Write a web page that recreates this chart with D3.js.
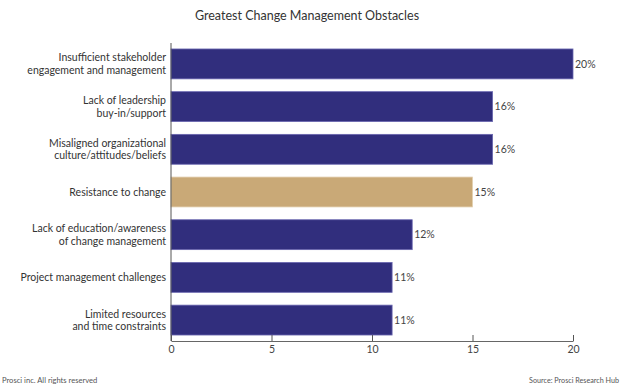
<!DOCTYPE html>
<html lang="en">
<head>
    <meta charset="UTF-8">
    <title>Greatest Change Management Obstacles</title>
    <script src="https://d3js.org/d3.v7.min.js"></script>
    <style>
        body { margin: 0; background: #fff; }
        svg text { font-family: Lato, "Open Sans", sans-serif; }
    </style>
</head>
<body>
    <div id="chart"></div>
    <script>
        // Data
        const categories = [
            ["Insufficient stakeholder", "engagement and management"],
            ["Lack of leadership", "buy-in/support"],
            ["Misaligned organizational", "culture/attitudes/beliefs"],
            ["Resistance to change"],
            ["Lack of education/awareness", "of change management"],
            ["Project management challenges"],
            ["Limited resources", "and time constraints"]
        ];
        const values = [20, 16, 16, 15, 12, 11, 11];
        const highlight = [false, false, false, true, false, false, false];
        const xTicks = [0, 5, 10, 15, 20];

        const width = 624, height = 392;
        const margin = { top: 43, right: 51, bottom: 51, left: 171 };

        const svg = d3.select("#chart")
            .append("svg")
            .attr("width", width)
            .attr("height", height);

        // Title
        svg.append("text")
            .attr("x", 307)
            .attr("y", 20)
            .attr("text-anchor", "middle")
            .attr("font-size", 12.5)
            .attr("fill", "#333")
            .text("Greatest Change Management Obstacles");

        const x = d3.scaleLinear()
            .domain([0, 20])
            .range([margin.left, width - margin.right]);

        const y = d3.scaleBand()
            .domain(d3.range(values.length))
            .range([margin.top, height - margin.bottom])
            .paddingInner(0.3)
            .paddingOuter(0.14);

        // Bars
        svg.selectAll("rect.bar")
            .data(values)
            .join("rect")
            .attr("class", "bar")
            .attr("x", x(0))
            .attr("y", (d, i) => y(i))
            .attr("width", d => x(d) - x(0))
            .attr("height", y.bandwidth())
            .attr("fill", (d, i) => highlight[i] ? "#c9a977" : "#312e7d")
            .attr("stroke", (d, i) => highlight[i] ? "#e2cfae" : "#6a67b0")
            .attr("stroke-width", 0.8);

        // Value labels
        svg.selectAll("text.val")
            .data(values)
            .join("text")
            .attr("class", "val")
            .attr("x", d => x(d) + 2)
            .attr("y", (d, i) => y(i) + y.bandwidth() / 2)
            .attr("dy", "0.35em")
            .attr("font-size", 10.5)
            .attr("fill", "#444")
            .text(d => d + "%");

        // Category labels
        const labels = svg.selectAll("text.cat")
            .data(categories)
            .join("text")
            .attr("class", "cat")
            .attr("text-anchor", "end")
            .attr("font-size", 10.5)
            .attr("fill", "#333");

        labels.each(function(lines, i) {
            const cy = y(i) + y.bandwidth() / 2;
            const lh = 12.5;
            const t = d3.select(this);
            lines.forEach((line, j) => {
                t.append("tspan")
                    .attr("x", margin.left - 5)
                    .attr("y", cy + (j - (lines.length - 1) / 2) * lh)
                    .attr("dy", "0.35em")
                    .text(line);
            });
        });

        // Vertical axis line
        svg.append("line")
            .attr("x1", x(0)).attr("x2", x(0))
            .attr("y1", margin.top).attr("y2", height - margin.bottom)
            .attr("stroke", "#555")
            .attr("stroke-width", 1);

        // X axis, ticks pointing up
        const xAxis = svg.append("g")
            .attr("transform", `translate(0,${height - margin.bottom})`)
            .call(d3.axisBottom(x).tickValues(xTicks).tickSizeInner(-6).tickSizeOuter(0).tickPadding(5));

        xAxis.select(".domain").attr("stroke", "#666").attr("stroke-width", 1.2);
        xAxis.selectAll(".tick line").attr("stroke", "#555");
        xAxis.selectAll(".tick text")
            .attr("font-family", "Open Sans, sans-serif")
            .attr("font-size", 10.5)
            .attr("fill", "#444");

        // Footer
        svg.append("text")
            .attr("x", 2)
            .attr("y", 383)
            .attr("font-size", 7.6)
            .attr("fill", "#555")
            .text("Prosci inc. All rights reserved");

        svg.append("text")
            .attr("x", 619)
            .attr("y", 383)
            .attr("text-anchor", "end")
            .attr("font-size", 7.2)
            .attr("fill", "#555")
            .text("Source: Prosci Research Hub");
    </script>
</body>
</html>
